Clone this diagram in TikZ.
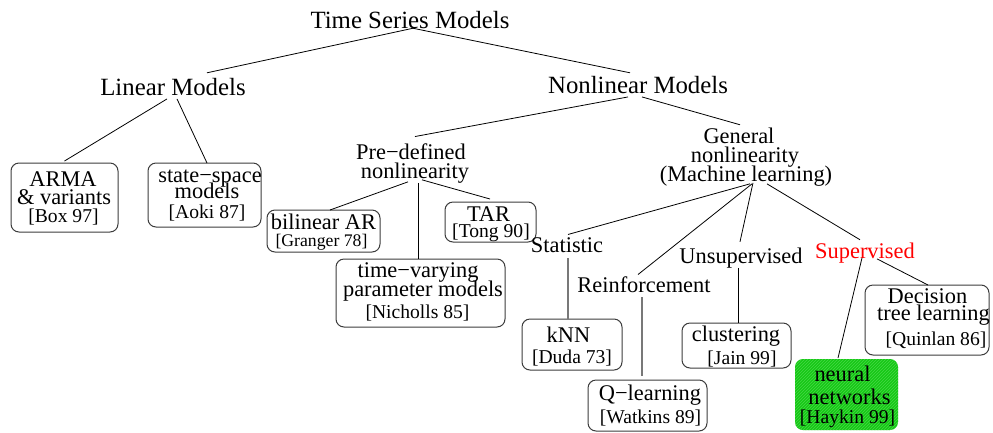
\documentclass[tikz,border=0pt]{standalone}
\usepackage{fontspec}
\setmainfont{Liberation Serif}
\usetikzlibrary{patterns}
\definecolor{nngreen}{RGB}{22,200,22}
\definecolor{nnstripe}{RGB}{70,215,70}
\definecolor{boxline}{RGB}{60,60,60}
\definecolor{greyline}{RGB}{120,120,120}
\newcommand{\bigsz}{\fontsize{24.8}{26}\selectfont}
\newcommand{\midsz}{\fontsize{22.4}{24}\selectfont}
\newcommand{\refsz}{\fontsize{19.6}{21}\selectfont}
\tikzset{
  txt/.style={inner sep=0pt, outer sep=0pt, anchor=base},
  bigtxt/.style={txt, font=\bigsz},
  midtxt/.style={txt, font=\midsz},
  reftxt/.style={txt, font=\refsz},
  modelbox/.style={draw=boxline, line width=1pt, rounded corners=8pt,
    inner sep=0pt, outer sep=0pt},
  link/.style={line width=0.8pt, black},
  greylink/.style={line width=1.3pt, greyline},
}
\begin{document}
\begin{tikzpicture}[x=1pt, y=-1pt]
\useasboundingbox (0,0) rectangle (993,432);

% ---- boxes (centre, width, height) ----
\node[modelbox, minimum width=107pt, minimum height=69pt] (arma) at (64.5,197.5) {};
\node[modelbox, minimum width=113pt, minimum height=64pt] (ss) at (204.5,195) {};
\node[modelbox, minimum width=113pt, minimum height=42pt] (bil) at (323.5,231) {};
\node[modelbox, minimum width=91pt, minimum height=40pt] (tar) at (490.5,222) {};
\node[modelbox, minimum width=169pt, minimum height=68pt] (tv) at (420.5,293) {};
\node[modelbox, minimum width=100pt, minimum height=51pt] (knn) at (572,344.5) {};
\node[modelbox, minimum width=119pt, minimum height=51pt] (q) at (647.5,405.5) {};
\node[modelbox, minimum width=109pt, minimum height=45pt] (clust) at (736.5,345.5) {};
\node[modelbox, minimum width=124pt, minimum height=70pt] (dec) at (927,320) {};
\node[modelbox, draw=none, preaction={fill=nngreen}, pattern=north east lines,
      pattern color=nnstripe, minimum width=103pt, minimum height=71pt] (nn) at (846.5,394.5) {};

% ---- tree labels ----
\node[bigtxt] (ts) at (410,28) {Time Series Models};
\node[bigtxt] (lin) at (173,95) {Linear Models};
\node[bigtxt] (nonlin) at (638,93) {Nonlinear Models};
\node[midtxt] (pre1) at (411,159) {Pre−defined};
\node[midtxt] (pre2) at (415,178) {nonlinearity};
\node[midtxt] (gen1) at (739,143) {General};
\node[midtxt] (gen2) at (745,162) {nonlinearity};
\node[midtxt] (gen3) at (746,181) {(Machine learning)};
\node[midtxt] (stat) at (567,252) {Statistic};
\node[midtxt] (reinf) at (644,292) {Reinforcement};
\node[midtxt] (unsup) at (741,263) {Unsupervised};
\node[midtxt, text=red] (sup) at (865,258) {Supervised};

% ---- box texts ----
\node[midtxt] (arma1) at (63,186) {ARMA};
\node[midtxt] (arma2) at (64,204) {\& variants};
\node[reftxt] (arma3) at (63.5,222) {[Box 97]};
\node[midtxt] (ss1) at (210,182) {state−space};
\node[midtxt] (ss2) at (207,198) {models};
\node[reftxt] (ss3) at (207,218) {[Aoki 87]};
\node[midtxt] (bil1) at (323.5,229) {bilinear AR};
\node[txt, font=\fontsize{17.7}{19}\selectfont] (bil2) at (321.5,246) {[Granger 78]};
\node[midtxt] (tar1) at (488.5,221) {TAR};
\node[reftxt] (tar2) at (491,237) {[Tong 90]};
\node[midtxt] (tv1) at (418,277) {time−varying};
\node[midtxt] (tv2) at (423,296) {parameter models};
\node[reftxt] (tv3) at (417.5,318) {[Nicholls 85]};
\node[midtxt] (knn1) at (568.5,342) {kNN};
\node[reftxt] (knn2) at (572,363) {[Duda 73]};
\node[midtxt] (q1) at (650,400) {Q−learning};
\node[reftxt] (q2) at (650.5,423) {[Watkins 89]};
\node[midtxt] (cl1) at (736,341) {clustering};
\node[reftxt] (cl2) at (742,364) {[Jain 99]};
\node[midtxt] (nn1) at (842.5,381) {neural};
\node[midtxt] (nn2) at (849.5,404) {networks};
\node[reftxt] (nn3) at (847.5,423) {[Haykin 99]};
\node[midtxt] (dec1) at (927.5,303) {Decision};
\node[midtxt] (dec2) at (933.5,320) {tree learning};
\node[reftxt] (dec3) at (936,345) {[Quinlan 86]};

% ---- connectors ----
\draw[link] ([xshift=3pt]ts.south) -- ([xshift=34pt,yshift=5pt]lin.north);
\draw[link] ([xshift=3pt]ts.south) -- ([xshift=-8pt,yshift=3pt]nonlin.north);

\draw[link] ([xshift=-6pt,yshift=-3.7pt]lin.south) -- ([yshift=2pt]arma.north);
\draw[link] ([xshift=4pt,yshift=-3.7pt]lin.south) -- ([xshift=2.5pt]ss.north);

\draw[link] ([xshift=-10pt,yshift=-3.7pt]nonlin.south) -- ([xshift=4pt,yshift=6.7pt]pre1.north);
\draw[link] ([xshift=4pt,yshift=-3.7pt]nonlin.south) -- ([xshift=1pt,yshift=2.7pt]gen1.north);

\draw[link] ([xshift=-7pt,yshift=1pt]pre2.south) -- ([xshift=6.5pt]bil.north);
\draw[link] ([xshift=3pt]pre2.south) -- ([xshift=-2.5pt]tv.north);
\draw[link] ([xshift=7pt,yshift=3pt]pre2.south) -- ([xshift=-0.5pt,yshift=3pt]tar.north);

\draw[link] ([xshift=4pt,yshift=2pt]gen3.south) -- ([xshift=1pt,yshift=2.7pt]stat.north);
\draw[link] ([xshift=6pt,yshift=2pt]gen3.south) -- ([xshift=-6pt,yshift=1.7pt]reinf.north);
\draw[link] ([xshift=7pt,yshift=3pt]gen3.south) -- ([xshift=-1pt,yshift=5.7pt]unsup.north);
\draw[link] ([xshift=21pt,yshift=2pt]gen3.south) -- ([xshift=-5pt,yshift=2.7pt]sup.north);

\draw[greylink] ([xshift=1pt,yshift=-6pt]stat.south) -- ([xshift=-4pt]knn.north);
\draw[greylink] ([xshift=-2pt,yshift=-5pt]reinf.south) -- ([xshift=-5.5pt,yshift=4pt]q.north);
\draw[link] ([xshift=-3pt]unsup.south) -- ([xshift=1.5pt]clust.north);
\draw[link] ([xshift=-3pt,yshift=4.9pt]sup.south) -- ([xshift=-8.5pt,yshift=1pt]nn.north);
\draw[link] ([xshift=12pt,yshift=3.9pt]sup.south) -- ([xshift=1pt]dec.north);
\end{tikzpicture}
\end{document}
